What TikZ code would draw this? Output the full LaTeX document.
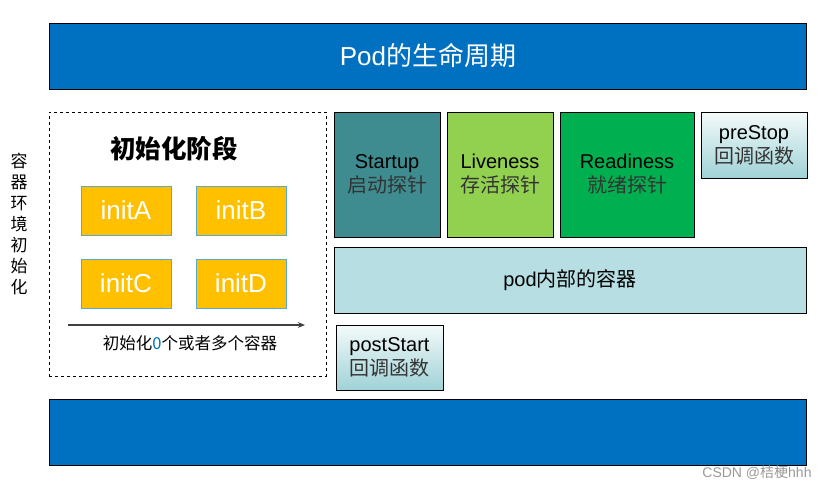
\documentclass[tikz,border=0pt]{standalone}
\usepackage{fontspec}
\setmainfont{Liberation Sans}
\newfontfamily\cjk{Noto Sans CJK SC}
\usetikzlibrary{positioning,arrows.meta}

\definecolor{podblue}{HTML}{0070C0}
\definecolor{initgold}{HTML}{FFC000}
\definecolor{initedge}{HTML}{5BA8D0}
\definecolor{startteal}{HTML}{3E8C90}
\definecolor{livegreen}{HTML}{92D050}
\definecolor{readygreen}{HTML}{00B050}
\definecolor{podcyan}{HTML}{B7DFE3}
\definecolor{hooktop}{HTML}{F4FAFA}
\definecolor{hookbot}{HTML}{9FD2D6}

\begin{document}
\begin{tikzpicture}[
      x=1pt, y=-1pt,
      bar/.style={draw=black, line width=1pt, fill=podblue, minimum width=757pt, minimum height=66pt, inner sep=0pt},
      initbox/.style={draw=initedge, fill=initgold, text=white, font=\fontsize{26}{28}\selectfont, minimum width=90pt, minimum height=49pt, inner sep=0pt},
      probe/.style={draw=black, line width=0.8pt, align=center, font=\fontsize{20}{24}\selectfont, minimum height=125pt, inner sep=0pt},
      hook/.style={draw=black, line width=0.8pt, align=center, top color=hooktop, bottom color=hookbot, font=\fontsize{20}{24}\selectfont, inner sep=0pt},
      arrow/.style={-{Stealth[length=2.5mm, width=2mm]}, line width=1.2pt, draw=black!75}
    ]
    \useasboundingbox (0,0) rectangle (827,490);

    % pod lifecycle bars
    \node[bar, text=white, font=\fontsize{26}{30}\selectfont] (top) at (428,56) {Pod{\cjk 的生命周期}};
    \node[bar] (bottom) at (428,432) {};

    % init stage
    \node[draw, dashed, line width=0.8pt, minimum width=277pt, minimum height=264pt, inner sep=0pt] (initstage) at (187.5,244) {};
    \node[font=\cjk\bfseries\fontsize{25.5}{28}\selectfont] (inittitle) at (174,149) {初始化阶段};
    \node[initbox] (initA) at (126,210.5) {initA};
    \node[initbox] (initB) at (241,210.5) {initB};
    \node[initbox] (initC) at (126,283.5) {initC};
    \node[initbox] (initD) at (241,283.5) {initD};
    \coordinate (seqstart) at (68,325);
    \coordinate (seqend) at (305,325);
    \draw[arrow] (seqstart) -- (seqend);
    \node[font=\cjk\fontsize{16.5}{18}\selectfont] (seqlabel) at (190,343) {初始化{\color{podblue}0}个或者多个容器};
    \node[font=\cjk\fontsize{17}{21}\selectfont, align=center] (envinit) at (19,224) {容\\器\\环\\境\\初\\始\\化};

    % probes and hooks
    \node[probe, fill=startteal, minimum width=106pt] (startup) at (387,174.5) {Startup\\{\cjk\color{black!80}启动探针}};
    \node[probe, fill=livegreen, minimum width=106pt] (liveness) at (500,174.5) {Liveness\\{\cjk\color{black!80}存活探针}};
    \node[probe, fill=readygreen, minimum width=134pt] (readiness) at (627,174.5) {Readiness\\{\cjk\color{black!80}就绪探针}};
    \node[hook, minimum width=106pt, minimum height=66pt] (prestop) at (754,145) {preStop\\{\cjk\color{black!80}回调函数}};
    \node[draw=black, line width=0.8pt, fill=podcyan, minimum width=472pt, minimum height=66pt, font=\fontsize{20}{24}\selectfont] (container) at (570,280) {pod{\cjk 内部的容器}};
    \node[hook, minimum width=107pt, minimum height=65pt] (poststart) at (389.5,357.5) {postStart\\{\cjk\color{black!80}回调函数}};

    \node[text=black!40, font=\fontsize{14}{16}\selectfont] (mark) at (757,473) {CSDN @{\cjk 桔梗}hhh};
  \end{tikzpicture}
\end{document}
